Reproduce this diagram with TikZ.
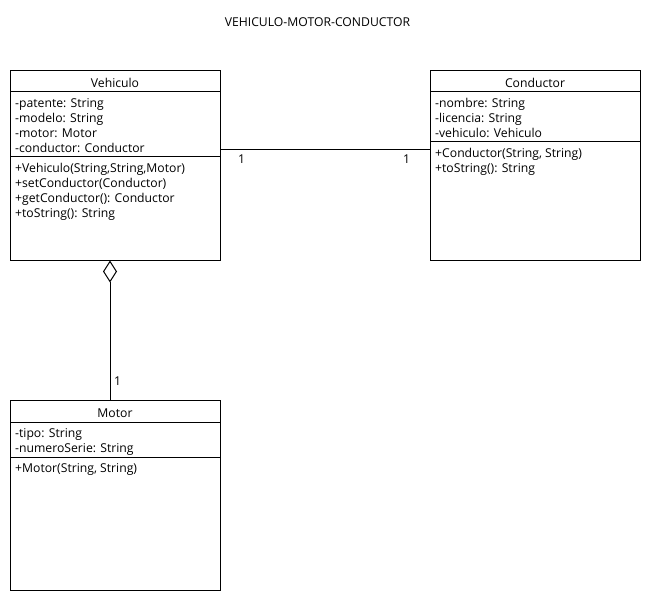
\documentclass[tikz,border=0pt]{standalone}
\usepackage{fontspec}
\setmainfont{Open Sans}
\usetikzlibrary{arrows.meta,calc}
\tikzset{
  cls/.style={draw=black, line width=1bp, fill=white, rectangle, minimum width=210bp, minimum height=190bp, inner sep=0pt, anchor=north west},
  sep/.style={draw=black, line width=1bp},
  txt/.style={anchor=base west, inner sep=0pt, font=\fontsize{12.2bp}{14bp}\selectfont},
  ttl/.style={anchor=base, inner sep=0pt, font=\fontsize{12.2bp}{14bp}\selectfont},
  conn/.style={draw=black, line width=1bp},
}
\begin{document}
\begin{tikzpicture}[x=1bp,y=-1bp]
\useasboundingbox (0,0) rectangle (650,600);
% title
\node[ttl] (title) at (317.5,27) {VEHICULO-MOTOR-CONDUCTOR};
% Vehiculo
\node[cls] (v) at (10,70) {};
\draw[sep] (10,92) -- (220,92);
\draw[sep] (10,157) -- (220,157);
\node[ttl] (vname) at (115,87.5) {Vehiculo};
\node[txt] (va1) at (15,107.8) {-patente: String};
\node[txt] (va2) at (15,122.8) {-modelo: String};
\node[txt] (va3) at (15,137.8) {-motor: Motor};
\node[txt] (va4) at (15,152.8) {-conductor: Conductor};
\node[txt] (vm1) at (15,172.8) {+Vehiculo(String,String,Motor)};
\node[txt] (vm2) at (15,187.8) {+setConductor(Conductor)};
\node[txt] (vm3) at (15,202.8) {+getConductor(): Conductor};
\node[txt] (vm4) at (15,217.8) {+toString(): String};
% Conductor
\node[cls] (c) at (430,70) {};
\draw[sep] (430,92) -- (640,92);
\draw[sep] (430,142) -- (640,142);
\node[ttl] (cname) at (535,87.5) {Conductor};
\node[txt] (ca1) at (435,107.8) {-nombre: String};
\node[txt] (ca2) at (435,122.8) {-licencia: String};
\node[txt] (ca3) at (435,137.8) {-vehiculo: Vehiculo};
\node[txt] (cm1) at (435,157.8) {+Conductor(String, String)};
\node[txt] (cm2) at (435,172.8) {+toString(): String};
% Motor
\node[cls] (m) at (10,400) {};
\draw[sep] (10,422) -- (220,422);
\draw[sep] (10,457) -- (220,457);
\node[ttl] (mname) at (115,417.5) {Motor};
\node[txt] (ma1) at (15,437.8) {-tipo: String};
\node[txt] (ma2) at (15,452.8) {-numeroSerie: String};
\node[txt] (mm1) at (15,472.8) {+Motor(String, String)};
% connectors
\coordinate (vr) at (220,150);
\coordinate (cl) at (430,150);
\draw[conn] (vr) -- (cl);
\node[txt] (l1) at (238,163.5) {1};
\node[txt] (l2) at (403,163.5) {1};
\coordinate (vb) at (110,260.5);
\coordinate (mt) at (110,400);
\draw[conn, {Diamond[open, fill=white, length=22bp, width=14bp, line width=1bp]}-] (vb) -- (mt);
\node[txt] (l3) at (114,385.5) {1};
\end{tikzpicture}
\end{document}
